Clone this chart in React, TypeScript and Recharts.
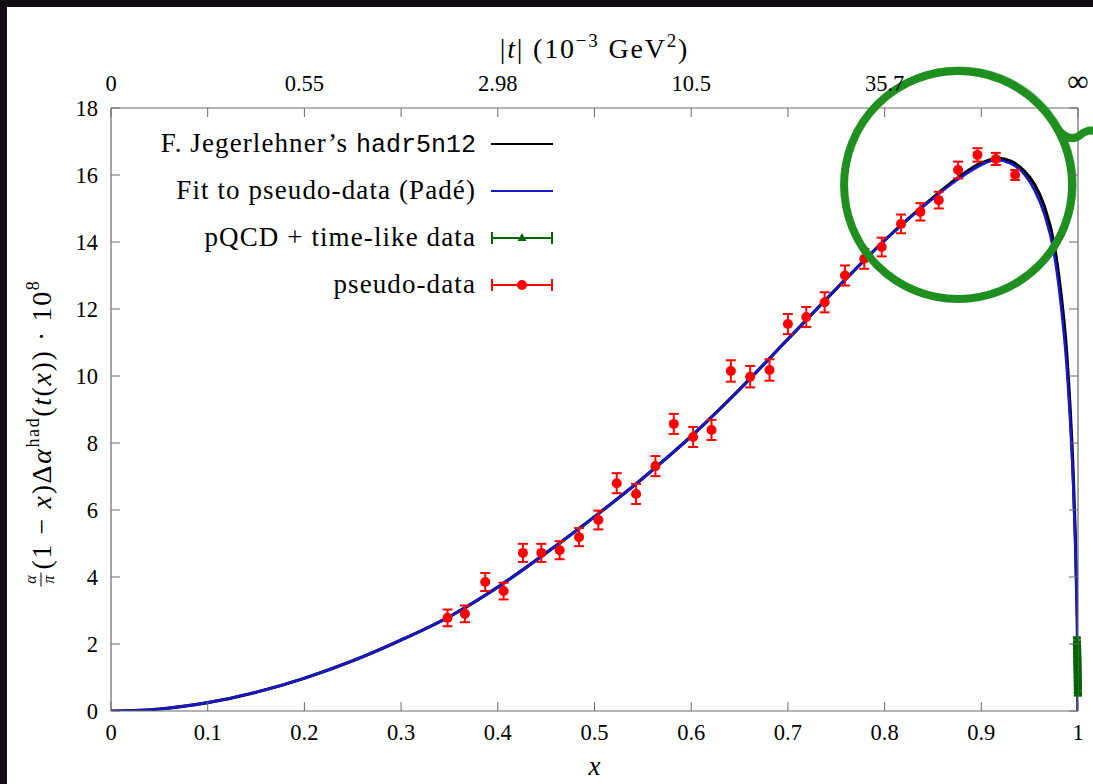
import React from 'react';
import { ComposedChart, Line, Scatter, XAxis, YAxis, ErrorBar, ReferenceDot, Legend } from 'recharts';

const FONT = '"Liberation Serif", "Times New Roman", serif';
const MONO = '"Liberation Mono", "DejaVu Sans Mono", monospace';

// ---- axis ticks ----
const xTicks = [0, 0.1, 0.2, 0.3, 0.4, 0.5, 0.6, 0.7, 0.8, 0.9, 1];
const yTicks = [0, 2, 4, 6, 8, 10, 12, 14, 16, 18];
const topTickPositions = [0, 0.2, 0.4, 0.6, 0.8, 1];
const topTickLabels = ['0', '0.55', '2.98', '10.5', '35.7', '∞'];

// ---- Fit to pseudo-data (Padé) ----
const fitX = [0, 0.05, 0.1, 0.15, 0.2, 0.25, 0.3, 0.35, 0.4, 0.45, 0.5, 0.55, 0.6, 0.65, 0.7, 0.75, 0.8, 0.85, 0.875, 0.9, 0.915, 0.93, 0.945, 0.955, 0.965, 0.975, 0.982, 0.988, 0.992, 0.995, 0.997, 0.9985, 0.9995, 1];
const fitY = [0, 0.06, 0.25, 0.56, 0.98, 1.5, 2.12, 2.82, 3.7, 4.72, 5.8, 6.95, 8.2, 9.6, 11.1, 12.6, 14.05, 15.3, 15.85, 16.3, 16.45, 16.35, 16.0, 15.55, 14.85, 13.7, 12.2, 10.4, 8.6, 6.8, 5.2, 3.6, 2.0, 0];

// ---- F. Jegerlehner's hadr5n12 ----
const jegX = [0, 0.05, 0.1, 0.15, 0.2, 0.25, 0.3, 0.35, 0.4, 0.45, 0.5, 0.55, 0.6, 0.65, 0.7, 0.75, 0.8, 0.85, 0.875, 0.9, 0.918, 0.93, 0.945, 0.955, 0.965, 0.975, 0.982, 0.988, 0.992, 0.995, 0.997, 0.9985, 0.9995, 1];
const jegY = [0, 0.06, 0.25, 0.56, 0.98, 1.5, 2.12, 2.82, 3.7, 4.72, 5.8, 6.95, 8.2, 9.6, 11.1, 12.6, 14.05, 15.32, 15.9, 16.36, 16.5, 16.42, 16.1, 15.72, 15.08, 13.98, 12.55, 10.8, 8.95, 7.1, 5.4, 3.7, 2.05, 0];

// ---- pseudo-data ----
const pseudoX = [0.348, 0.366, 0.387, 0.406, 0.426, 0.445, 0.464, 0.484, 0.504, 0.523, 0.543, 0.563, 0.582, 0.602, 0.621, 0.641, 0.661, 0.681, 0.7, 0.719, 0.738, 0.759, 0.779, 0.797, 0.817, 0.837, 0.856, 0.876, 0.896, 0.915, 0.935];
const pseudoY = [2.78, 2.9, 3.85, 3.58, 4.72, 4.72, 4.8, 5.19, 5.7, 6.8, 6.48, 7.31, 8.57, 8.18, 8.39, 10.15, 9.98, 10.18, 11.55, 11.76, 12.2, 13.0, 13.5, 13.85, 14.54, 14.9, 15.25, 16.15, 16.6, 16.48, 16.0];
const pseudoErr = [0.25, 0.25, 0.27, 0.25, 0.27, 0.27, 0.27, 0.27, 0.28, 0.3, 0.3, 0.3, 0.3, 0.3, 0.3, 0.32, 0.32, 0.32, 0.3, 0.3, 0.3, 0.3, 0.3, 0.28, 0.28, 0.26, 0.25, 0.25, 0.2, 0.18, 0.15];

// ---- pQCD + time-like data ----
const pqcdX = [0.9988, 0.999, 0.9991, 0.9992, 0.9993, 0.9994, 0.9995, 0.9996, 0.9997, 0.99975, 0.9998, 0.99985, 0.9999, 1.0];
const pqcdY = [2.08, 1.96, 1.84, 1.72, 1.6, 1.48, 1.36, 1.24, 1.12, 1.0, 0.88, 0.76, 0.66, 0.58];
const pqcdErr = [0.1, 0.1, 0.1, 0.1, 0.1, 0.1, 0.1, 0.1, 0.1, 0.1, 0.1, 0.1, 0.1, 0.1];

// ---- annotation (hand-drawn circle) centre, in data coordinates ----
const circleX = [0.876];
const circleY = [15.7];

const fitData = fitX.map((x, i) => ({ x, y: fitY[i] }));
const jegData = jegX.map((x, i) => ({ x, y: jegY[i] }));
const pseudoData = pseudoX.map((x, i) => ({ x, y: pseudoY[i], err: pseudoErr[i] }));
const pqcdData = pqcdX.map((x, i) => ({ x, y: pqcdY[i], err: pqcdErr[i] }));

const AXIS = '#6a6a6a';
const BLUE = '#1818c8';
const RED = '#ff0000';
const GREEN = '#006400';
const CIRCLE_GREEN = '#1f8f1f';

const fmtX = (v: number) => (v === 0 ? '0' : v === 1 ? '1' : v.toFixed(1));

const BottomTick = (props: any) => {
  const { x, y, payload } = props;
  return (
    <g>
      <line x1={x} x2={x} y1={y} y2={y - 9} stroke={AXIS} strokeWidth={1} />
      <text x={x} y={y + 29} textAnchor="middle" fontFamily={FONT} fontSize={22.5} fill="#000">
        {fmtX(payload.value)}
      </text>
    </g>
  );
};

const TopTick = (props: any) => {
  const { x, y, payload } = props;
  const idx = topTickPositions.findIndex((p) => Math.abs(p - payload.value) < 1e-6);
  return (
    <g>
      <line x1={x} x2={x} y1={y} y2={y + 9} stroke={AXIS} strokeWidth={1} />
      {idx >= 0 && (
        <text x={x} y={y - 17} textAnchor="middle" fontFamily={FONT} fontSize={idx === 5 ? 30 : 22.5} fill="#000">
          {topTickLabels[idx]}
        </text>
      )}
    </g>
  );
};

const LeftTick = (props: any) => {
  const { x, y, payload } = props;
  return (
    <g>
      <line x1={x} x2={x + 9} y1={y} y2={y} stroke={AXIS} strokeWidth={1} />
      <text x={x - 13} y={y + 8} textAnchor="end" fontFamily={FONT} fontSize={22.5} fill="#000">
        {payload.value}
      </text>
    </g>
  );
};

const RightTick = (props: any) => {
  const { x, y } = props;
  return <line x1={x} x2={x - 9} y1={y} y2={y} stroke={AXIS} strokeWidth={1} />;
};

const YLabel = (props: any) => {
  const vb = props.viewBox || { x: 0, y: 108, width: 111, height: 603 };
  const cx = vb.x + 42;
  const cy = vb.y + vb.height / 2;
  return (
    <g transform={`translate(${cx},${cy}) rotate(-90)`} fontFamily={FONT} fill="#000">
      <text x={-170} y={-6} fontSize={16} fontStyle="italic" textAnchor="middle">α</text>
      <line x1={-177} x2={-163} y1={-1} y2={-1} stroke="#000" strokeWidth={1} />
      <text x={-170} y={12} fontSize={16} fontStyle="italic" textAnchor="middle">π</text>
      <text x={-160} y={9} fontSize={28} textAnchor="start" letterSpacing={1.6}>
        (1 − <tspan fontStyle="italic">x</tspan>)Δ<tspan fontStyle="italic">α</tspan>
        <tspan dy={-12} fontSize={18}>had</tspan>
        <tspan dy={12}>(</tspan>
        <tspan fontStyle="italic">t</tspan>(<tspan fontStyle="italic">x</tspan>)) · 10
        <tspan dy={-12} fontSize={18}>8</tspan>
      </text>
    </g>
  );
};

const XLabel = (props: any) => {
  const vb = props.viewBox || { x: 111, y: 711, width: 967, height: 73 };
  return (
    <text x={vb.x + vb.width / 2} y={vb.y + 64} textAnchor="middle" fontFamily={FONT} fontSize={27} fontStyle="italic" fill="#000">
      x
    </text>
  );
};

const TopLabel = (props: any) => {
  const vb = props.viewBox || { x: 111, y: 0, width: 967, height: 108 };
  return (
    <text x={vb.x + vb.width / 2} y={58} textAnchor="middle" fontFamily={FONT} fontSize={28} letterSpacing={1.8} fill="#000">
      |<tspan fontStyle="italic">t</tspan>| (10<tspan dy={-11} fontSize={19}>−3</tspan>
      <tspan dy={11}> GeV</tspan>
      <tspan dy={-11} fontSize={19}>2</tspan>
      <tspan dy={11}>)</tspan>
    </text>
  );
};

const RedDot = (props: any) => {
  const { cx, cy } = props;
  return <circle cx={cx} cy={cy} r={5} fill={RED} />;
};

const GreenTri = (props: any) => {
  const { cx, cy } = props;
  return <path d={`M${cx - 4.5},${cy + 4} L${cx + 4.5},${cy + 4} L${cx},${cy - 4} Z`} fill={GREEN} />;
};

const HandCircle = (props: any) => {
  const { cx, cy } = props;
  return (
    <g fill="none" stroke={CIRCLE_GREEN} strokeLinecap="round">
      <circle cx={cx} cy={cy} r={114} strokeWidth={8} />
      <circle cx={cx + 1} cy={cy - 1} r={116} strokeWidth={3} strokeOpacity={0.7} />
      <path d={`M${cx + 100},${cy - 55} Q${cx + 112},${cy - 42} ${cx + 122},${cy - 50} T${cx + 140},${cy - 52}`} strokeWidth={8} />
    </g>
  );
};

const legendRows = [
  { key: 'jeg', kind: 'line', color: '#000' },
  { key: 'fit', kind: 'line', color: BLUE },
  { key: 'pqcd', kind: 'err', color: GREEN },
  { key: 'pseudo', kind: 'err', color: RED },
];

const legendText = (key: string) => {
  if (key === 'jeg')
    return (
      <>
        F. Jegerlehner’s <span style={{ fontFamily: MONO, fontSize: 25, letterSpacing: 0 }}>hadr5n12</span>
      </>
    );
  if (key === 'fit') return 'Fit to pseudo-data (Padé)';
  if (key === 'pqcd') return 'pQCD + time-like data';
  return 'pseudo-data';
};

const renderLegend = () => (
  <div style={{ fontFamily: FONT, fontSize: 27, color: '#000' }}>
    {legendRows.map((r) => (
      <div key={r.key} style={{ display: 'flex', alignItems: 'center', height: 47 }}>
        <div style={{ width: 326, textAlign: 'right', whiteSpace: 'nowrap', letterSpacing: 1.1 }}>{legendText(r.key)}</div>
        <svg width={80} height={20} style={{ marginLeft: 15 }}>
          <line x1={0} x2={62} y1={10} y2={10} stroke={r.color} strokeWidth={2} />
          {r.kind === 'err' && (
            <>
              <line x1={1} x2={1} y1={4} y2={16} stroke={r.color} strokeWidth={2} />
              <line x1={61} x2={61} y1={4} y2={16} stroke={r.color} strokeWidth={2} />
              {r.key === 'pseudo' ? (
                <circle cx={31} cy={10} r={5} fill={r.color} />
              ) : (
                <path d="M26.5,13 L35.5,13 L31,5 Z" fill={r.color} />
              )}
            </>
          )}
        </svg>
      </div>
    ))}
  </div>
);

export default function App() {
  return (
    <div style={{ position: 'absolute', left: 0, top: 0, width: 1093, height: 784, background: '#120e13', overflow: 'hidden' }}>
      <div style={{ position: 'absolute', left: 7, top: 7, width: 1086, height: 777, background: '#fff' }} />
      <div style={{ position: 'absolute', left: 0, top: 0 }}>
        <ComposedChart width={1093} height={784} margin={{ top: 0, right: 0, bottom: 0, left: 0 }}>
          <XAxis
            xAxisId="bottom"
            dataKey="x"
            type="number"
            domain={[0, 1]}
            ticks={xTicks}
            height={73}
            tickSize={0}
            tickMargin={0}
            tickLine={false}
            axisLine={{ stroke: AXIS, strokeWidth: 1.2 }}
            tick={<BottomTick />}
            interval={0}
            allowDataOverflow
            label={<XLabel />}
          />
          <XAxis
            xAxisId="top"
            dataKey="x"
            orientation="top"
            type="number"
            domain={[0, 1]}
            ticks={xTicks}
            height={108}
            tickSize={0}
            tickMargin={0}
            tickLine={false}
            axisLine={{ stroke: AXIS, strokeWidth: 1.2 }}
            tick={<TopTick />}
            interval={0}
            allowDataOverflow
            label={<TopLabel />}
          />
          <YAxis
            yAxisId="left"
            type="number"
            domain={[0, 18]}
            ticks={yTicks}
            width={111}
            tickSize={0}
            tickMargin={0}
            tickLine={false}
            axisLine={{ stroke: AXIS, strokeWidth: 1.2 }}
            tick={<LeftTick />}
            interval={0}
            allowDataOverflow
            label={<YLabel />}
          />
          <YAxis
            yAxisId="right"
            orientation="right"
            type="number"
            domain={[0, 18]}
            ticks={yTicks}
            width={15}
            tickSize={0}
            tickMargin={0}
            tickLine={false}
            axisLine={{ stroke: AXIS, strokeWidth: 1.2 }}
            tick={<RightTick />}
            interval={0}
            allowDataOverflow
          />
          <Legend
            layout="vertical"
            align="center"
            verticalAlign="middle"
            content={renderLegend}
            wrapperStyle={{ left: 150, top: 120, width: 430 }}
          />
          <Line
            xAxisId="bottom"
            yAxisId="left"
            data={jegData}
            dataKey="y"
            type="monotone"
            stroke="#000"
            strokeWidth={3.2}
            dot={false}
            isAnimationActive={false}
          />
          <Line
            xAxisId="bottom"
            yAxisId="left"
            data={fitData}
            dataKey="y"
            type="monotone"
            stroke={BLUE}
            strokeWidth={2.6}
            dot={false}
            isAnimationActive={false}
          />
          <Scatter
            xAxisId="bottom"
            yAxisId="left"
            data={pqcdData}
            dataKey="y"
            fill={GREEN}
            shape={<GreenTri />}
            isAnimationActive={false}
          >
            <ErrorBar dataKey="err" direction="y" stroke={GREEN} strokeWidth={3.5} width={4} isAnimationActive={false} />
          </Scatter>
          <Scatter
            xAxisId="bottom"
            yAxisId="left"
            data={pseudoData}
            dataKey="y"
            fill={RED}
            shape={<RedDot />}
            isAnimationActive={false}
          >
            <ErrorBar dataKey="err" direction="y" stroke={RED} strokeWidth={2} width={5} isAnimationActive={false} />
          </Scatter>
          <ReferenceDot
            xAxisId="bottom"
            yAxisId="left"
            x={circleX[0]}
            y={circleY[0]}
            r={114}
            shape={<HandCircle />}
            ifOverflow="visible"
          />
        </ComposedChart>
      </div>
    </div>
  );
}
